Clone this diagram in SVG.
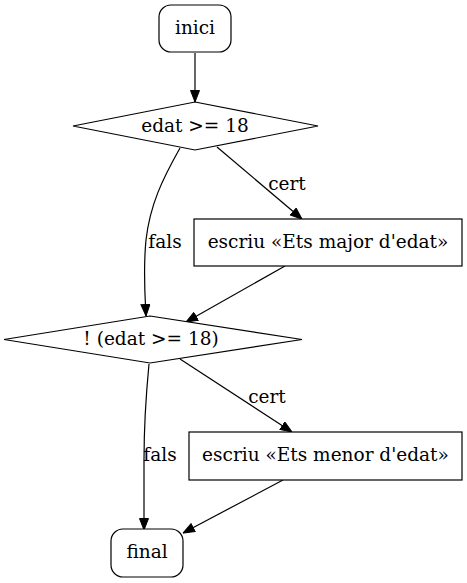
<svg xmlns="http://www.w3.org/2000/svg" width="467" height="583" viewBox="0 0 467 583">
<style>
.n{fill:#fff;stroke:#000;stroke-width:1.2}
.e{fill:none;stroke:#000;stroke-width:1.2;marker-end:url(#ah)}
.t{font-family:"DejaVu Serif","Liberation Serif",serif;font-size:18.5px;fill:#000;text-anchor:middle}
</style>
<defs>
<marker id="ah" viewBox="0 0 12 10" refX="12" refY="5" markerWidth="12" markerHeight="10" markerUnits="userSpaceOnUse" orient="auto">
<path d="M0.5,0.5 L12,5 L0.5,9.5 z" fill="#000" stroke="#000" stroke-width="1"/>
</marker>
</defs>
<rect width="467" height="583" fill="#fff"/>
<g id="edges">
<path class="e" d="M195,53 L195,102"/>
<path class="e" d="M180,148 C162,180 150,205 146,240 C143,270 145,295 146,316"/>
<path class="e" d="M217,147 L302,219"/>
<path class="e" d="M285,266 L186,322"/>
<path class="e" d="M149,364 C146,395 144,425 144,460 C144,490 144,510 144,530"/>
<path class="e" d="M180,359 L292,432"/>
<path class="e" d="M283,480 L183,533"/>
<text class="t" x="287" y="190">cert</text>
<text class="t" x="165" y="248">fals</text>
<text class="t" x="267" y="403">cert</text>
<text class="t" x="160" y="461">fals</text>
</g>
<g id="inici">
<rect class="n" x="159" y="5" width="72" height="47" rx="12" ry="12"/>
<text class="t" x="195" y="34">inici</text>
</g>
<g id="cond1">
<polygon class="n" points="195,102 318,126 195,150 73,126"/>
<text class="t" x="195" y="132">edat &gt;= 18</text>
</g>
<g id="major">
<rect class="n" x="194" y="219" width="268" height="47"/>
<text class="t" x="328" y="248">escriu «Ets major d'edat»</text>
</g>
<g id="cond2">
<polygon class="n" points="150,316 302,339.5 150,363 4,339.5"/>
<text class="t" x="151" y="345">! (edat &gt;= 18)</text>
</g>
<g id="menor">
<rect class="n" x="189" y="432" width="273" height="48"/>
<text class="t" x="325.5" y="461">escriu «Ets menor d'edat»</text>
</g>
<g id="final">
<rect class="n" x="111" y="529" width="72" height="48" rx="12" ry="12"/>
<text class="t" x="147" y="558">final</text>
</g>
</svg>
